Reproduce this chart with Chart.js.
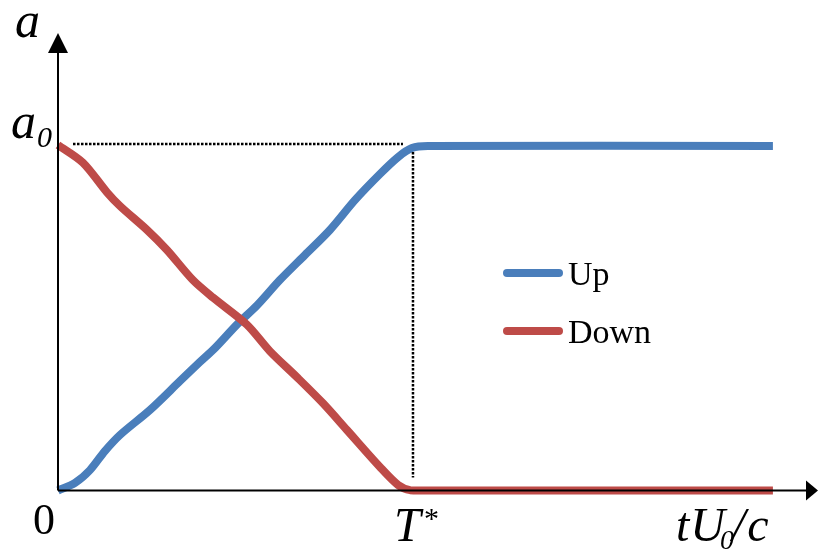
<!DOCTYPE html>
<html>
<head>
<meta charset="utf-8">
<script src="https://cdn.jsdelivr.net/npm/chart.js@4/dist/chart.umd.min.js"></script>
<style>
    html, body { margin: 0; padding: 0; background: #ffffff; }
    #wrap { width: 818px; height: 552px; position: relative; }
</style>
</head>
<body>
<div id="wrap"><canvas id="growthChart"></canvas></div>
<script>
// time axis tU0/c, T* = 1 ; amplitude a, a0 = 1
const tStar = 1;
const aZero = 1;
const xMax = 2.141;
const yMax = 1.324;

const upT = [0, 0.048, 0.090, 0.132, 0.175, 0.259, 0.344, 0.400, 0.442, 0.504, 0.561, 0.625, 0.696, 0.766, 0.837, 0.907, 0.958, 0.997, 1.042, 2.014];
const upA = [0, 0.022, 0.059, 0.114, 0.161, 0.233, 0.317, 0.372, 0.412, 0.480, 0.536, 0.609, 0.682, 0.754, 0.841, 0.916, 0.965, 0.991, 0.997, 0.997];

const downT = [0, 0.070, 0.138, 0.175, 0.251, 0.307, 0.380, 0.437, 0.532, 0.597, 0.673, 0.746, 0.814, 0.907, 0.958, 0.992, 1.048, 2.014];
const downA = [1.0, 0.949, 0.863, 0.823, 0.754, 0.696, 0.609, 0.558, 0.480, 0.403, 0.328, 0.253, 0.175, 0.068, 0.016, 0.001, 0, 0];

const seriesLabels = ['Up', 'Down'];
const seriesColors = ['#4A7EBB', '#BE4B48'];

const serif = '"Liberation Serif", "DejaVu Serif", serif';

function toPoints(xs, ys) {
    return xs.map(function (x, i) { return { x: x, y: ys[i] }; });
}

// axes with arrow heads, dotted guides, math labels and legend
const annotate = {
    id: 'annotate',
    afterDraw: function (chart) {
        const ctx = chart.ctx;
        const xs = chart.scales.x;
        const ys = chart.scales.y;
        const x0 = xs.getPixelForValue(0);
        const y0 = ys.getPixelForValue(0);
        const xT = xs.getPixelForValue(tStar);
        const yA = ys.getPixelForValue(aZero);
        const right = xs.getPixelForValue(xMax);
        const top = ys.getPixelForValue(yMax);

        ctx.save();

        // dotted guides
        ctx.strokeStyle = '#000';
        ctx.lineWidth = 2.5;
        ctx.setLineDash([2.5, 1.5]);
        ctx.beginPath();
        ctx.moveTo(x0 + 15, yA - 1);
        ctx.lineTo(xT - 10, yA - 1);
        ctx.moveTo(xT, yA + 7);
        ctx.lineTo(xT, y0 - 13);
        ctx.stroke();
        ctx.setLineDash([]);

        // axes
        ctx.lineWidth = 2;
        ctx.beginPath();
        ctx.moveTo(x0, y0);
        ctx.lineTo(right - 10, y0);
        ctx.moveTo(x0, y0);
        ctx.lineTo(x0, top + 18);
        ctx.stroke();

        ctx.fillStyle = '#000';
        ctx.beginPath();
        ctx.moveTo(right, y0);
        ctx.lineTo(right - 12, y0 - 10);
        ctx.lineTo(right - 12, y0 + 10);
        ctx.closePath();
        ctx.fill();
        ctx.beginPath();
        ctx.moveTo(x0, top);
        ctx.lineTo(x0 - 10, top + 20);
        ctx.lineTo(x0 + 10, top + 20);
        ctx.closePath();
        ctx.fill();

        // labels
        ctx.textAlign = 'left';
        ctx.textBaseline = 'alphabetic';
        ctx.font = 'italic 50px ' + serif;
        ctx.fillText('a', x0 - 43, top + 4);
        ctx.fillText('a', x0 - 47, yA - 7);
        ctx.font = 'italic 30px ' + serif;
        ctx.fillText('0', x0 - 21, yA + 2);

        ctx.font = '44px ' + serif;
        ctx.textAlign = 'center';
        ctx.fillText('0', x0 - 14, y0 + 43);

        ctx.textAlign = 'left';
        ctx.font = 'italic 48px ' + serif;
        ctx.fillText('T', xT - 19, y0 + 50);
        ctx.font = '30px ' + serif;
        ctx.fillText('*', xT + 11, y0 + 37);

        let cx = 676;
        const by = y0 + 50;
        ctx.font = 'italic 48px ' + serif;
        ctx.fillText('t', cx, by);
        cx += ctx.measureText('t').width + 1;
        ctx.fillText('U', cx, by);
        cx += ctx.measureText('U').width - 5;
        ctx.font = 'italic 28px ' + serif;
        ctx.fillText('0', cx, by + 8);
        cx += ctx.measureText('0').width - 2;
        ctx.font = 'italic 48px ' + serif;
        ctx.fillText('/', cx, by);
        cx += ctx.measureText('/').width + 2;
        ctx.fillText('c', cx, by);

        // legend
        ctx.font = '34px ' + serif;
        ctx.lineCap = 'round';
        ctx.lineWidth = 8;
        seriesLabels.forEach(function (label, i) {
            const ly = 273 + i * 58;
            ctx.strokeStyle = seriesColors[i];
            ctx.beginPath();
            ctx.moveTo(507, ly);
            ctx.lineTo(559, ly);
            ctx.stroke();
            ctx.fillStyle = '#000';
            ctx.fillText(label, 568, ly + 12);
        });

        ctx.restore();
    }
};

const chartItem = document.getElementById('growthChart');
const growthChart = new Chart(chartItem, {
    type: 'line',
    data: {
        datasets: [{
            label: seriesLabels[1],
            borderColor: seriesColors[1],
            data: toPoints(downT, downA),
            order: 0
        }, {
            label: seriesLabels[0],
            borderColor: seriesColors[0],
            data: toPoints(upT, upA),
            order: 1
        }]
    },
    options: {
        responsive: true,
        maintainAspectRatio: false,
        animation: false,
        layout: {
            padding: { left: 58, right: 0, top: 33, bottom: 61.5 }
        },
        plugins: {
            legend: { display: false },
            tooltip: { enabled: false }
        },
        scales: {
            x: { type: 'linear', min: 0, max: xMax, display: false },
            y: { type: 'linear', min: 0, max: yMax, display: false }
        },
        elements: {
            line: {
                borderWidth: 8,
                tension: 0.3,
                borderCapStyle: 'butt',
                borderJoinStyle: 'round',
                fill: false
            },
            point: { radius: 0, hitRadius: 0, hoverRadius: 0 }
        },
        clip: false
    },
    plugins: [annotate]
});
</script>
</body>
</html>
